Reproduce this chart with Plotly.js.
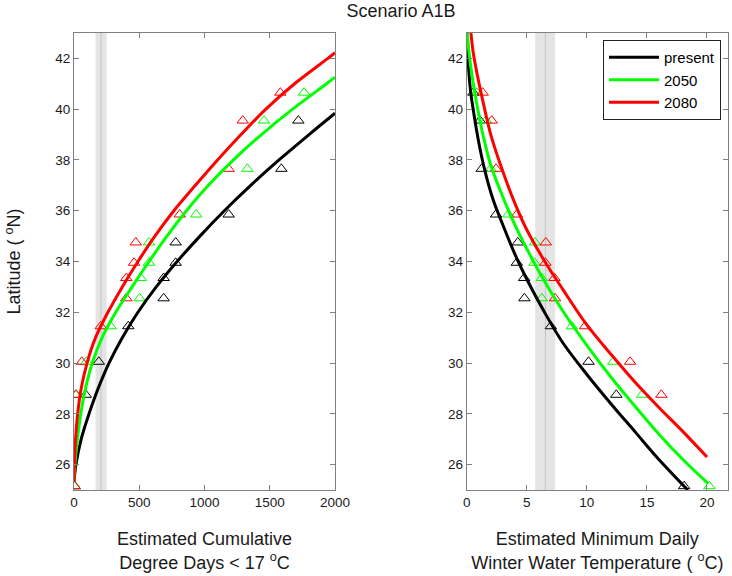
<!DOCTYPE html>
<html>
<head>
<meta charset="utf-8">
<script src="https://cdn.plot.ly/plotly-3.0.1.min.js"></script>
<style>html,body{margin:0;padding:0;background:#fff;}#chart{width:732px;height:576px;}</style>
</head>
<body>
<div id="chart"></div>
<script>
// ---------- data ----------
const seriesNames = ['present', '2050', '2080'];
const seriesColors = ['#000000', '#00ff00', '#ff0000'];

// observed latitudes (°N)
const obsLat = [25.15, 28.75, 30.05, 31.45, 32.55, 33.35, 33.95, 34.75, 35.85, 37.65, 39.55, 40.65];

// left panel: estimated cumulative degree days < 17 °C
const ddPresent = [5, 90, 190, 416, 687, 687, 779, 779, 1185, 1589, 1719, null];
const dd2050 = [5, 18, 95, 281, 503, 511, 575, 575, 937, 1328, 1456, 1763];
const dd2080 = [5, 13, 60, 205, 401, 401, 460, 473, 810, 1185, 1293, 1581];

// left panel fitted curves (latitude, degree days)
const fitLatPresentDD = [25.35, 26, 27, 28, 29, 30, 31, 32, 33, 34, 35, 36, 37, 38, 39, 39.84];
const fitPresentDD = [0, 15, 55, 115, 185, 268, 370, 490, 630, 790, 965, 1152, 1354, 1571, 1801, 2000];
const fitLat2050DD = [25.35, 26, 27, 28, 29, 30, 31, 32, 33, 34, 35, 36, 37, 38, 39, 40, 41, 41.26];
const fit2050DD = [0, 7, 26, 52, 88, 140, 215, 320, 445, 575, 712, 862, 1030, 1222, 1437, 1675, 1935, 2000];
const fitLat2080DD = [25.35, 26, 27, 28, 29, 30, 31, 32, 33, 34, 35, 36, 37, 38, 39, 40, 41, 42, 42.22];
const fit2080DD = [0, 3, 12, 28, 55, 100, 165, 260, 370, 490, 620, 765, 930, 1100, 1280, 1470, 1690, 1945, 2000];

// right panel: estimated minimum daily winter water temperature (°C)
const tPresent = [18.1, 12.45, 10.14, 7.0, 4.8, 4.78, 4.17, 4.25, 2.44, 1.25, 1.1, 0.55];
const t2050 = [20.2, 14.6, 12.2, 8.75, 6.25, 6.25, 5.65, 5.69, 3.47, 2.0, 1.6, 0.83];
const t2080 = [null, 16.2, 13.6, 9.85, 7.35, 7.3, 6.55, 6.58, 4.17, 2.44, 2.08, 1.33];

// right panel fitted curves (temperature, latitude)
const fitPresentT = [0, 0.1, 0.3, 0.6, 1.0, 1.5, 2.2, 3.0, 4.0, 5.0, 6.5, 8.0, 10, 12, 14, 16, 18.4];
const fitLatPresentT = [43, 42.0, 40.8, 39.8, 38.7, 37.6, 36.43, 35.45, 34.3, 33.3, 31.98, 30.8, 29.55, 28.4, 27.3, 26.2, 25.0];
const fit2050T = [0.05, 0.2, 0.45, 0.8, 1.3, 2.0, 3.0, 4.0, 5.0, 6.5, 8.0, 10, 12, 14, 16, 18, 20.1];
const fitLat2050T = [43, 42.2, 41.3, 40.3, 39.1, 37.8, 36.55, 35.45, 34.5, 33.2, 32.05, 30.7, 29.45, 28.3, 27.2, 26.2, 25.25];
const fit2080T = [0.35, 0.55, 0.9, 1.4, 2.0, 3.0, 4.0, 5.0, 6.5, 8.0, 10, 12, 14, 16, 18, 20];
const fitLat2080T = [43, 42.2, 41.3, 40.2, 39.0, 37.55, 36.3, 35.25, 34.0, 32.9, 31.5, 30.35, 29.25, 28.25, 27.3, 26.3];

// thresholds (shaded bands with centre lines)
const ddBand = [165, 250];
const ddBandCentre = 207;
const tBand = [5.7, 7.35];
const tBandCentre = 6.55;

// axis ticks
const ddTicks = [0, 500, 1000, 1500, 2000];
const tTicks = [0, 5, 10, 15, 20];
const latTicks = [26, 28, 30, 32, 34, 36, 38, 40, 42];

// ---------- traces ----------
const ddObs = [ddPresent, dd2050, dd2080];
const tObs = [tPresent, t2050, t2080];
const ddFitX = [fitPresentDD, fit2050DD, fit2080DD];
const ddFitY = [fitLatPresentDD, fitLat2050DD, fitLat2080DD];
const tFitX = [fitPresentT, fit2050T, fit2080T];
const tFitY = [fitLatPresentT, fitLat2050T, fitLat2080T];

const traces = [];
for (let i = 0; i < 3; i++) {
  traces.push({x: ddObs[i], y: obsLat, type: 'scatter', mode: 'markers', xaxis: 'x', yaxis: 'y',
    showlegend: false, cliponaxis: true, hoverinfo: 'skip',
    marker: {symbol: 'triangle-up-open', size: 10, color: seriesColors[i], line: {width: 1, color: seriesColors[i]}}});
  traces.push({x: tObs[i], y: obsLat, type: 'scatter', mode: 'markers', xaxis: 'x2', yaxis: 'y2',
    showlegend: false, cliponaxis: true, hoverinfo: 'skip',
    marker: {symbol: 'triangle-up-open', size: 10, color: seriesColors[i], line: {width: 1, color: seriesColors[i]}}});
}
for (let i = 0; i < 3; i++) {
  traces.push({x: ddFitX[i], y: ddFitY[i], type: 'scatter', mode: 'lines', xaxis: 'x', yaxis: 'y',
    showlegend: false, hoverinfo: 'skip', line: {color: seriesColors[i], width: 3, shape: 'spline', smoothing: 1}});
  traces.push({x: tFitX[i], y: tFitY[i], type: 'scatter', mode: 'lines', xaxis: 'x2', yaxis: 'y2',
    name: seriesNames[i], showlegend: true, hoverinfo: 'skip', line: {color: seriesColors[i], width: 3, shape: 'spline', smoothing: 1}});
}

// ---------- layout ----------
const axisCommon = {
  showline: true, linecolor: '#808080', linewidth: 1, mirror: 'ticks',
  ticks: 'inside', ticklen: 5, tickcolor: '#808080', tickwidth: 1,
  showgrid: false, zeroline: false,
  tickfont: {family: 'Liberation Sans, Arial, sans-serif', size: 13.5, color: '#1a1a1a'}
};
const titleFont = {family: 'Liberation Sans, Arial, sans-serif', size: 18, color: '#1a1a1a'};

const layout = {
  width: 732, height: 576,
  margin: {l: 74, r: 4, t: 33, b: 86},
  paper_bgcolor: '#ffffff', plot_bgcolor: '#ffffff',
  showlegend: true,
  title: {text: 'Scenario A1B', font: titleFont, x: 0.5, xref: 'paper', xanchor: 'center',
          y: 0.981, yref: 'container', yanchor: 'middle'},
  xaxis: Object.assign({}, axisCommon, {domain: [0, 0.3991], range: [0, 2000], tickvals: ddTicks,
    title: {text: 'Estimated Cumulative<br>Degree Days &lt; 17 <sup>o</sup>C', font: titleFont, standoff: 23}}),
  yaxis: Object.assign({}, axisCommon, {domain: [0, 1], range: [25, 43], tickvals: latTicks, anchor: 'x',
    title: {text: 'Latitude ( <sup>o</sup>N)', font: titleFont, standoff: 29}}),
  xaxis2: Object.assign({}, axisCommon, {domain: [0.6005, 1], range: [0, 21.75], tickvals: tTicks, anchor: 'y2',
    title: {text: 'Estimated Minimum Daily<br>Winter Water Temperature ( <sup>o</sup>C)', font: titleFont, standoff: 23}}),
  yaxis2: Object.assign({}, axisCommon, {domain: [0, 1], range: [25, 43], tickvals: latTicks, anchor: 'x2'}),
  legend: {x: 0.9893, xanchor: 'right', y: 0.9847, yanchor: 'top', xref: 'paper', yref: 'paper',
    bgcolor: '#ffffff', bordercolor: '#222222', borderwidth: 1,
    font: {family: 'Liberation Sans, Arial, sans-serif', size: 15, color: '#000000'},
    itemwidth: 50, tracegroupgap: 0},
  shapes: [
    {type: 'rect', xref: 'x', yref: 'paper', x0: ddBand[0], x1: ddBand[1], y0: 0, y1: 1,
     fillcolor: '#e4e4e4', line: {width: 0}, layer: 'below'},
    {type: 'line', xref: 'x', yref: 'paper', x0: ddBandCentre, x1: ddBandCentre, y0: 0, y1: 1,
     line: {color: '#c4c4c4', width: 1}, layer: 'below'},
    {type: 'rect', xref: 'x2', yref: 'paper', x0: tBand[0], x1: tBand[1], y0: 0, y1: 1,
     fillcolor: '#e4e4e4', line: {width: 0}, layer: 'below'},
    {type: 'line', xref: 'x2', yref: 'paper', x0: tBandCentre, x1: tBandCentre, y0: 0, y1: 1,
     line: {color: '#c4c4c4', width: 1}, layer: 'below'}
  ]
};

Plotly.newPlot('chart', traces, layout, {staticPlot: true, displayModeBar: false});
</script>
</body>
</html>
